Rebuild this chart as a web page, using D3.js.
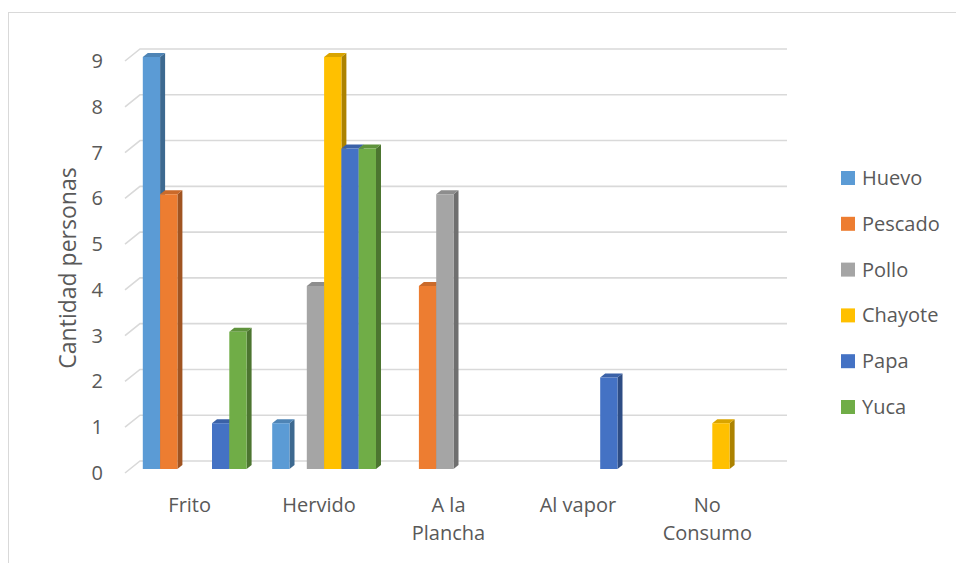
<!DOCTYPE html>
<html>
<head>
<meta charset="utf-8">
<script src="https://cdn.jsdelivr.net/npm/d3@7"></script>
<style>
  html, body { margin: 0; padding: 0; background: #fff; }
  svg { display: block; }
  text { font-family: "Open Sans", sans-serif; fill: #595959; }
</style>
</head>
<body>
<svg id="chart" width="956" height="563"></svg>
<script>
// Cooking method per food, number of people
const categories = [["Frito"], ["Hervido"], ["A la", "Plancha"], ["Al vapor"], ["No", "Consumo"]];
const seriesNames = ["Huevo", "Pescado", "Pollo", "Chayote", "Papa", "Yuca"];
const seriesColors = ["#5B9BD5", "#ED7D31", "#A5A5A5", "#FFC000", "#4472C4", "#70AD47"];
const huevo   = [9, 1, 0, 0, 0];
const pescado = [6, 0, 4, 0, 0];
const pollo   = [0, 4, 6, 0, 0];
const chayote = [0, 9, 0, 0, 1];
const papa    = [1, 7, 0, 2, 0];
const yuca    = [3, 7, 0, 0, 0];
const yTicks  = [0, 1, 2, 3, 4, 5, 6, 7, 8, 9];
const yTitle  = "Cantidad personas";

const seriesValues = [huevo, pescado, pollo, chayote, papa, yuca];

const svg = d3.select("#chart");

// outer chart frame
svg.append("rect")
  .attr("x", 8.5).attr("y", 12.5)
  .attr("width", 1000).attr("height", 600)
  .attr("fill", "none").attr("stroke", "#d9d9d9").attr("stroke-width", 1);

// oblique depth of the 3-D floor
const depth = { dx: 15, dy: -12 };
const floorY = 473;            // front edge of floor
const frontLeft = 125, frontRight = 772;

const catKeys = categories.map(c => c.join(" "));
const x0 = d3.scaleBand().domain(catKeys).range([frontLeft, frontRight]).paddingInner(0).paddingOuter(0);
const x1 = d3.scaleBand().domain(seriesNames).range([0, x0.bandwidth()]).paddingInner(0).paddingOuter(0.74);
const y = d3.scaleLinear().domain([0, 9]).range([0, 412]);

const P = (x, v, f) => [x + depth.dx * f, floorY + depth.dy * f - y(v)];

// gridlines: sloped side wall piece + back wall line
const grid = svg.append("g").attr("stroke", "#d9d9d9").attr("stroke-width", 1.6).attr("fill", "none");
yTicks.forEach(t => {
  const a = P(frontLeft, t, 0), b = P(frontLeft, t, 1), c = P(frontRight, t, 1);
  grid.append("path").attr("d", d3.line()([a, b, c]));
});

// y tick labels
svg.append("g").selectAll("text").data(yTicks).join("text")
  .attr("x", 103)
  .attr("y", d => P(frontLeft, d, 0)[1])
  .attr("dy", "0.35em")
  .attr("text-anchor", "end")
  .style("font-size", "20px")
  .text(d => d);

// y axis title
svg.append("text")
  .attr("transform", `translate(76,268) rotate(-90)`)
  .attr("text-anchor", "middle")
  .style("font-size", "23px")
  .text(yTitle);

// bars (front at 1/3 depth, back at 2/3 depth)
const f0 = 1 / 3, f1 = 2 / 3;
const bars = [];
categories.forEach((c, ci) => {
  seriesNames.forEach((s, si) => {
    const v = seriesValues[si][ci];
    if (v > 0) bars.push({ cat: catKeys[ci], s, si, v });
  });
});

const barG = svg.append("g");
bars.forEach(d => {
  const xl = x0(d.cat) + x1(d.s);
  const xr = xl + x1.bandwidth();
  const base = d3.color(seriesColors[d.si]);
  const fbl = P(xl, 0, f0), fbr = P(xr, 0, f0), ftl = P(xl, d.v, f0), ftr = P(xr, d.v, f0);
  const btl = P(xl, d.v, f1), btr = P(xr, d.v, f1), bbr = P(xr, 0, f1);
  // side face
  barG.append("path").attr("d", d3.line()([fbr, ftr, btr, bbr]) + "Z")
    .attr("fill", base.darker(1.1).formatHex());
  // top face
  barG.append("path").attr("d", d3.line()([ftl, ftr, btr, btl]) + "Z")
    .attr("fill", base.darker(0.45).formatHex());
  // front face
  barG.append("path").attr("d", d3.line()([fbl, fbr, ftr, ftl]) + "Z")
    .attr("fill", base.formatHex());
});

// category labels
const labG = svg.append("g");
categories.forEach((c, ci) => {
  const cx = x0(catKeys[ci]) + x0.bandwidth() / 2;
  const t = labG.append("text").attr("text-anchor", "middle").style("font-size", "20px");
  c.forEach((line, li) => {
    t.append("tspan").attr("x", cx).attr("y", 512 + li * 28).text(line);
  });
});

// legend
const leg = svg.append("g");
seriesNames.forEach((s, i) => {
  const yy = 171 + i * 45.8;
  leg.append("rect").attr("x", 841).attr("y", yy).attr("width", 14).attr("height", 14)
    .attr("fill", seriesColors[i]);
  leg.append("text").attr("x", 862).attr("y", yy + 14).style("font-size", "20px").text(s);
});
</script>
</body>
</html>
